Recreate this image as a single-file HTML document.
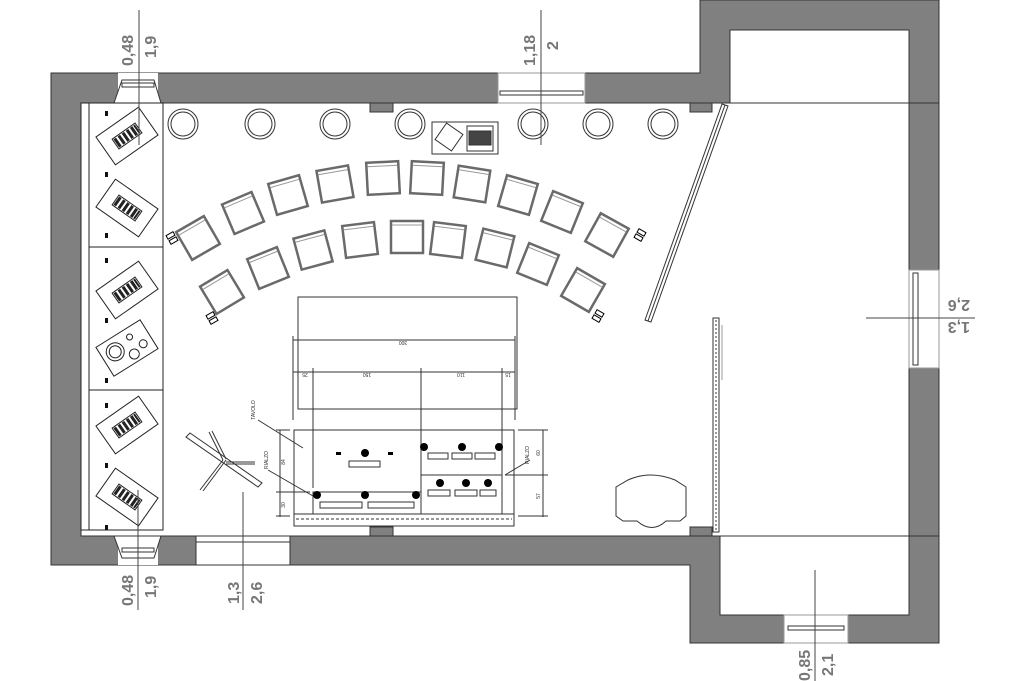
<!DOCTYPE html>
<html><head><meta charset="utf-8"><style>
html,body{margin:0;padding:0;background:#fff}
svg{display:block}
text{font-family:"Liberation Sans",sans-serif}
</style></head><body>
<svg width="1024" height="681" viewBox="0 0 1024 681" xmlns="http://www.w3.org/2000/svg">
<defs>
<g id="chair"><rect x="-16" y="-16" width="32" height="32" fill="#fff" stroke="#6a6a6a" stroke-width="2.5"/><line x1="-15" y1="-12" x2="15" y2="-12" stroke="#999" stroke-width="1"/></g>
<g id="kb"><rect x="-26" y="-17" width="52" height="34" fill="#fff" stroke="#222" stroke-width="1"/>
<g fill="#222"><rect x="-14" y="-6" width="28" height="12" fill="#fff" stroke="#222"/><rect x="-13" y="-5" width="3" height="10"/><rect x="-8" y="-5" width="3" height="10"/><rect x="-3" y="-5" width="3" height="10"/><rect x="2" y="-5" width="3" height="10"/><rect x="7" y="-5" width="3" height="10"/><rect x="11" y="-5" width="2" height="10"/></g></g>
<g id="stool"><circle r="15" fill="#fff" stroke="#333" stroke-width="1"/><circle r="12" fill="none" stroke="#333" stroke-width="1"/></g>
<g id="plug"><rect x="-4" y="-5" width="8" height="4" fill="#fff" stroke="#000" stroke-width="1"/><rect x="-4" y="1" width="8" height="4" fill="#fff" stroke="#000" stroke-width="1"/></g>
</defs>
<!-- walls -->
<g fill="#808080" stroke="#333" stroke-width="1">
<path d="M51 73 H700 V0 H939 V643 H690 V565 H51 Z M81 103 V536 H720 V615 H909 V30 H730 V103 Z" fill-rule="evenodd"/>
</g>
<!-- window openings -->
<g fill="#fff" stroke="#333" stroke-width="1">
<rect x="118" y="73" width="40" height="30" stroke="none"/>
<path d="M122 80 H154 L161 103 H114 Z"/>
<rect x="122" y="83" width="32" height="4"/>
<rect x="498" y="73" width="87" height="30" stroke="none"/>
<rect x="498" y="73" width="87" height="30" fill="none" stroke="#999"/>
<rect x="500" y="91" width="83" height="4"/>
<rect x="118" y="536" width="40" height="29" stroke="none"/>
<path d="M114 536 H161 L154 558 H122 Z"/>
<rect x="122" y="548" width="32" height="4"/>
<rect x="196" y="536" width="94" height="29"/>
<line x1="196" y1="542" x2="290" y2="542"/>
<rect x="909" y="270" width="30" height="98" stroke="none"/>
<rect x="909" y="270" width="30" height="98" fill="none" stroke="#999"/>
<rect x="913" y="273" width="5" height="92"/>
<rect x="784" y="615" width="64" height="28" stroke="none"/>
<rect x="784" y="615" width="64" height="28" fill="none" stroke="#999"/>
<rect x="788" y="626" width="56" height="4"/>
</g>
<!-- wall bumps -->
<g fill="#808080" stroke="#333">
<rect x="370" y="103" width="23" height="9"/><rect x="690" y="103" width="22" height="9"/>
<rect x="370" y="527" width="23" height="9"/><rect x="690" y="527" width="22" height="9"/>
</g>
<!-- annex thin lines -->
<g stroke="#333" stroke-width="1">
<line x1="730" y1="103" x2="939" y2="103"/><line x1="720" y1="536" x2="939" y2="536"/>
</g>
<!-- partitions -->
<g fill="#fff" stroke="#333" stroke-width="1">
<path d="M722 104 L728 106 L651 322 L645 320 Z"/>
<line x1="725" y1="105" x2="648" y2="321"/>
<rect x="713" y="318" width="6" height="214"/>
<line x1="716" y1="320" x2="716" y2="530" stroke-dasharray="2 2"/>
<line x1="722" y1="325" x2="722" y2="380" stroke="#999"/>
</g>
<!-- left cabinets -->
<g fill="#fff" stroke="#222" stroke-width="1">
<rect x="81" y="103" width="8" height="427"/>
<rect x="89" y="103" width="74" height="144"/>
<rect x="89" y="247" width="74" height="143"/>
<rect x="89" y="390" width="74" height="140"/>
</g>
<g fill="#111">
<rect x="105" y="111" width="3" height="5"/><rect x="105" y="172" width="3" height="5"/><rect x="105" y="233" width="3" height="5"/>
<rect x="105" y="258" width="3" height="5"/><rect x="105" y="318" width="3" height="5"/><rect x="105" y="378" width="3" height="5"/>
<rect x="105" y="403" width="3" height="5"/><rect x="105" y="463" width="3" height="5"/><rect x="105" y="525" width="3" height="5"/>
</g>
<use href="#kb" transform="translate(127,136) rotate(-35)"/>
<use href="#kb" transform="translate(127,208) rotate(35)"/>
<use href="#kb" transform="translate(127,290) rotate(-35)"/>
<g transform="translate(127,348) rotate(-32)" fill="#fff" stroke="#222"><rect x="-26" y="-17" width="52" height="34"/><circle cx="-12" cy="-3" r="9"/><circle cx="-12" cy="-3" r="6"/><circle cx="8" cy="-8" r="3"/><circle cx="3" cy="9" r="5"/><circle cx="16" cy="5" r="4"/></g>
<use href="#kb" transform="translate(127,425) rotate(-35)"/>
<use href="#kb" transform="translate(127,497) rotate(35)"/>
<!-- stools -->
<use href="#stool" x="183" y="124"/><use href="#stool" x="260" y="124"/><use href="#stool" x="335" y="124"/><use href="#stool" x="410" y="124"/><use href="#stool" x="533" y="124"/><use href="#stool" x="598" y="124"/><use href="#stool" x="663" y="124"/>
<!-- device -->
<g fill="#fff" stroke="#333"><rect x="432" y="122" width="66" height="32"/><rect x="439" y="127" width="20" height="20" transform="rotate(35 449 137)"/><rect x="467" y="126" width="26" height="25"/><rect x="469" y="131" width="22" height="14" fill="#444"/></g>
<!-- chairs -->
<use href="#chair" transform="translate(198,238) rotate(-30)"/>
<use href="#chair" transform="translate(243,213) rotate(-23)"/>
<use href="#chair" transform="translate(288,195) rotate(-16)"/>
<use href="#chair" transform="translate(335,184) rotate(-10)"/>
<use href="#chair" transform="translate(383,178) rotate(-3)"/>
<use href="#chair" transform="translate(427,178) rotate(3)"/>
<use href="#chair" transform="translate(472,184) rotate(9)"/>
<use href="#chair" transform="translate(518,195) rotate(16)"/>
<use href="#chair" transform="translate(562,212) rotate(22)"/>
<use href="#chair" transform="translate(607,235) rotate(29)"/>
<use href="#chair" transform="translate(222,292) rotate(-31)"/>
<use href="#chair" transform="translate(268,268) rotate(-22)"/>
<use href="#chair" transform="translate(313,250) rotate(-15)"/>
<use href="#chair" transform="translate(360,240) rotate(-7)"/>
<use href="#chair" transform="translate(407,237) rotate(0)"/>
<use href="#chair" transform="translate(448,240) rotate(7)"/>
<use href="#chair" transform="translate(495,248) rotate(14)"/>
<use href="#chair" transform="translate(538,264) rotate(22)"/>
<use href="#chair" transform="translate(583,290) rotate(30)"/>
<use href="#plug" transform="translate(172,238) rotate(-30)"/>
<use href="#plug" transform="translate(212,318) rotate(-30)"/>
<use href="#plug" transform="translate(640,235) rotate(30)"/>
<use href="#plug" transform="translate(598,316) rotate(30)"/>
<!-- screen & dims -->
<g fill="none" stroke="#333" stroke-width="1">
<rect x="298" y="297" width="219" height="112"/>
<line x1="293" y1="340" x2="515" y2="340"/>
<line x1="293" y1="372" x2="515" y2="372"/>
<line x1="293" y1="336" x2="293" y2="420"/><line x1="515" y1="336" x2="515" y2="420"/>
<line x1="313" y1="368" x2="313" y2="488"/><line x1="421" y1="368" x2="421" y2="475"/><line x1="502" y1="368" x2="502" y2="488"/>
<rect x="294" y="430" width="220" height="96"/>
<line x1="294" y1="514" x2="514" y2="514"/><line x1="296" y1="519" x2="512" y2="519" stroke-dasharray="3 2"/>
<path d="M313 514 V492 H421 V514 M421 514 V475 H502 V514"/>
<line x1="280" y1="430" x2="280" y2="517"/><line x1="276" y1="492" x2="310" y2="492"/><line x1="276" y1="430" x2="290" y2="430"/><line x1="276" y1="516" x2="290" y2="516"/>
<line x1="543" y1="430" x2="543" y2="517"/><line x1="518" y1="430" x2="548" y2="430"/><line x1="505" y1="475" x2="548" y2="475"/><line x1="518" y1="516" x2="548" y2="516"/>
<line x1="258" y1="420" x2="303" y2="448"/><line x1="268" y1="470" x2="313" y2="496"/><line x1="530" y1="460" x2="505" y2="475"/>
</g>
<g font-size="5" fill="#333" text-anchor="middle">
<text x="403" y="345" transform="rotate(180 403 343)">300</text>
<text x="305" y="377" transform="rotate(180 305 375)">25</text>
<text x="367" y="377" transform="rotate(180 367 375)">150</text>
<text x="461" y="377" transform="rotate(180 461 375)">110</text>
<text x="508" y="377" transform="rotate(180 508 375)">15</text>
<text transform="translate(285,462) rotate(-90)">84</text>
<text transform="translate(285,505) rotate(-90)">30</text>
<text transform="translate(540,453) rotate(-90)">60</text>
<text transform="translate(540,496) rotate(-90)">57</text>
<text transform="translate(255,410) rotate(-90)">TAVOLO</text>
<text transform="translate(268,460) rotate(-90)">RIALZO</text>
<text transform="translate(529,455) rotate(-90)">RIALZO</text>
</g>
<g fill="#000">
<circle cx="317" cy="495" r="4"/><circle cx="365" cy="495" r="4"/><circle cx="416" cy="495" r="4"/>
<circle cx="365" cy="453" r="4"/><circle cx="424" cy="447" r="4"/><circle cx="462" cy="447" r="4"/><circle cx="499" cy="447" r="4"/>
<circle cx="440" cy="483" r="4"/><circle cx="466" cy="483" r="4"/><circle cx="488" cy="483" r="4"/>
<rect x="336" y="452" width="5" height="3"/><rect x="388" y="452" width="5" height="3"/>
</g>
<g fill="#fff" stroke="#333" stroke-width="1">
<rect x="349" y="461" width="31" height="6"/>
<rect x="428" y="453" width="20" height="6"/><rect x="452" y="453" width="20" height="6"/><rect x="475" y="453" width="20" height="6"/>
<rect x="428" y="490" width="22" height="6"/><rect x="455" y="490" width="22" height="6"/><rect x="480" y="490" width="16" height="6"/>
<rect x="320" y="502" width="42" height="6"/><rect x="368" y="502" width="46" height="6"/>
</g>
<!-- music stand -->
<g fill="#fff" stroke="#333" stroke-width="1">
<path d="M186 437 L190 433 L262 483 L258 487 Z"/>
<line x1="223" y1="460" x2="200" y2="490"/><line x1="226" y1="460" x2="203" y2="491"/>
<line x1="223" y1="460" x2="209" y2="432"/><line x1="226" y1="459" x2="212" y2="431"/>
<line x1="226" y1="462" x2="255" y2="462"/><line x1="226" y1="464" x2="255" y2="464"/>
</g>
<!-- armchair -->
<path d="M628 480 Q650 470 675 480 L686 487 V516 L680 521 H666 Q652 534 637 521 H623 L616 516 V487 Z" fill="#fff" stroke="#333"/>
<!-- dim lines & labels -->
<g stroke="#444" stroke-width="1">
<line x1="139" y1="10" x2="139" y2="145"/>
<line x1="541" y1="10" x2="541" y2="145"/>
<line x1="866" y1="318" x2="975" y2="318"/>
<line x1="815" y1="570" x2="815" y2="681"/>
<line x1="138" y1="490" x2="138" y2="610"/>
<line x1="243" y1="492" x2="243" y2="610"/>
</g>
<g fill="#777" font-size="16" font-weight="bold">
<text transform="translate(133,66) rotate(-90)">0,48</text>
<text transform="translate(156,58) rotate(-90)">1,9</text>
<text transform="translate(535,66) rotate(-90)">1,18</text>
<text transform="translate(558,50) rotate(-90)">2</text>
<text transform="translate(133,606) rotate(-90)">0,48</text>
<text transform="translate(156,598) rotate(-90)">1,9</text>
<text transform="translate(239,604) rotate(-90)">1,3</text>
<text transform="translate(262,604) rotate(-90)">2,6</text>
<text transform="translate(810,681) rotate(-90)">0,85</text>
<text transform="translate(833,676) rotate(-90)">2,1</text>
<text transform="translate(970,300) rotate(180)">2,6</text>
<text transform="translate(970,322) rotate(180)">1,3</text>
</g>
</svg>
</body></html>
